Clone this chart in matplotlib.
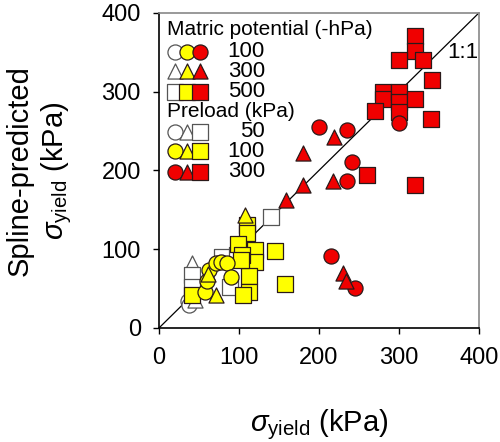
import matplotlib
matplotlib.use("Agg")
import matplotlib.pyplot as plt

plt.rcParams['font.family'] = ['Liberation Sans', 'DejaVu Sans']
plt.rcParams['mathtext.fontset'] = 'custom'
plt.rcParams['mathtext.rm'] = 'Liberation Sans'
plt.rcParams['mathtext.it'] = 'Liberation Sans:italic'

# ---- data (measured sigma_yield, spline-predicted sigma_yield), kPa ----
# preload 50 kPa (white)
w_circ_x = [36, 38]
w_circ_y = [34, 29]
w_tri_x = [41, 45]
w_tri_y = [82, 36]
w_sq_x = [41, 41, 79, 89, 98, 140]
w_sq_y = [67, 52, 90, 52, 93, 141]
# preload 100 kPa (yellow)
y_circ_x = [62, 71, 78, 85, 90, 58, 60]
y_circ_y = [74, 82, 84, 83, 65, 46, 60]
y_tri_x = [107, 61, 71]
y_tri_y = [143, 69, 42]
y_sq_x = [110, 110, 99, 120, 120, 104, 112, 112, 105, 145, 158, 41, 102]
y_sq_y = [131, 120, 107, 99, 84, 93, 66, 46, 42, 98, 56, 42, 86]
# preload 300 kPa (red)
r_circ_x = [200, 235, 241, 235, 300, 215, 245]
r_circ_y = [255, 251, 211, 186, 260, 91, 51]
r_tri_x = [219, 180, 218, 180, 159, 230, 234]
r_tri_y = [242, 222, 186, 182, 163, 70, 59]
r_sq_x = [320, 320, 300, 330, 341, 280, 280, 270, 300, 300, 300, 320, 340, 260, 320]
r_sq_y = [370, 351, 340, 340, 315, 300, 290, 275, 300, 287, 274, 290, 265, 194, 182]

ticks = [0, 100, 200, 300, 400]
matric_labels = ['100', '300', '500']
preload_labels = ['50', '100', '300']

WHITE, YELLOW, RED = '#ffffff', '#ffff00', '#f00000'
E_OPEN, E_FILL = '#555555', '#2a1a1a'
S = 118

fig = plt.figure(figsize=(5.0, 4.42), dpi=100)
ax = fig.add_axes([0.318, 0.258, 0.64, 0.713])

ax.plot([0, 400], [0, 400], color='black', lw=0.9, zorder=1)

groups = [
    (w_circ_x, w_circ_y, 'o', WHITE, E_OPEN),
    (w_tri_x, w_tri_y, '^', WHITE, E_OPEN),
    (w_sq_x, w_sq_y, 's', WHITE, E_OPEN),
    (y_sq_x, y_sq_y, 's', YELLOW, E_FILL),
    (y_circ_x, y_circ_y, 'o', YELLOW, E_FILL),
    (y_tri_x, y_tri_y, '^', YELLOW, E_FILL),
    (r_sq_x, r_sq_y, 's', RED, E_FILL),
    (r_circ_x, r_circ_y, 'o', RED, E_FILL),
    (r_tri_x, r_tri_y, '^', RED, E_FILL),
]
for i, (gx, gy, m, fc, ec) in enumerate(groups):
    ax.scatter(gx, gy, marker=m, s=S, facecolor=fc, edgecolor=ec,
               linewidth=0.9, zorder=2 + i)

ax.text(360, 349, '1:1', fontsize=16, ha='left', va='center')

# manual legend
tr = ax.transAxes
fs = 16
ax.text(0.025, 0.946, 'Matric potential (-hPa)', transform=tr, fontsize=15,
        ha='left', va='center')
mx = [0.05, 0.086, 0.128]
rows = [0.877, 0.814, 0.75]
cols = [WHITE, YELLOW, RED]
eds = [E_OPEN, E_FILL, E_FILL]
marks = ['o', '^', 's']
for r, (yy, m, lab) in enumerate(zip(rows, marks, matric_labels)):
    for c in range(3):
        ax.scatter([mx[c]], [yy], transform=tr, marker=m, s=S,
                   facecolor=cols[c], edgecolor=eds[c], linewidth=0.9,
                   zorder=20 + c, clip_on=False)
    ax.text(0.331, yy, lab, transform=tr, fontsize=fs, ha='right', va='center')
ax.text(0.025, 0.687, 'Preload (kPa)', transform=tr, fontsize=15,
        ha='left', va='center')
rows2 = [0.623, 0.56, 0.496]
for r, (yy, lab) in enumerate(zip(rows2, preload_labels)):
    for c in range(3):
        ax.scatter([mx[c]], [yy], transform=tr, marker=marks[c], s=S,
                   facecolor=cols[r], edgecolor=eds[r], linewidth=0.9,
                   zorder=20 + c, clip_on=False)
    ax.text(0.331, yy, lab, transform=tr, fontsize=fs, ha='right', va='center')

ax.set_xlim(0, 400)
ax.set_ylim(0, 400)
ax.set_xticks(ticks)
ax.set_yticks(ticks)
ax.tick_params(axis='both', direction='out', length=4, width=1.0,
               labelsize=17)
ax.tick_params(axis='x', pad=10)
ax.tick_params(axis='y', pad=9)
for side in ['left', 'bottom']:
    ax.spines[side].set_color('black')
    ax.spines[side].set_linewidth(1.2)
for side in ['top', 'right']:
    ax.spines[side].set_color('#888888')
    ax.spines[side].set_linewidth(1.2)

ax.set_xlabel(r'$\sigma_{\mathrm{yield}}$ (kPa)', fontsize=21, labelpad=27)
ax.set_ylabel('Spline-predicted\n' + r'$\sigma_{\mathrm{yield}}$ (kPa)',
              fontsize=21, labelpad=20, linespacing=1.25)

fig.savefig('out.png', dpi=100)
